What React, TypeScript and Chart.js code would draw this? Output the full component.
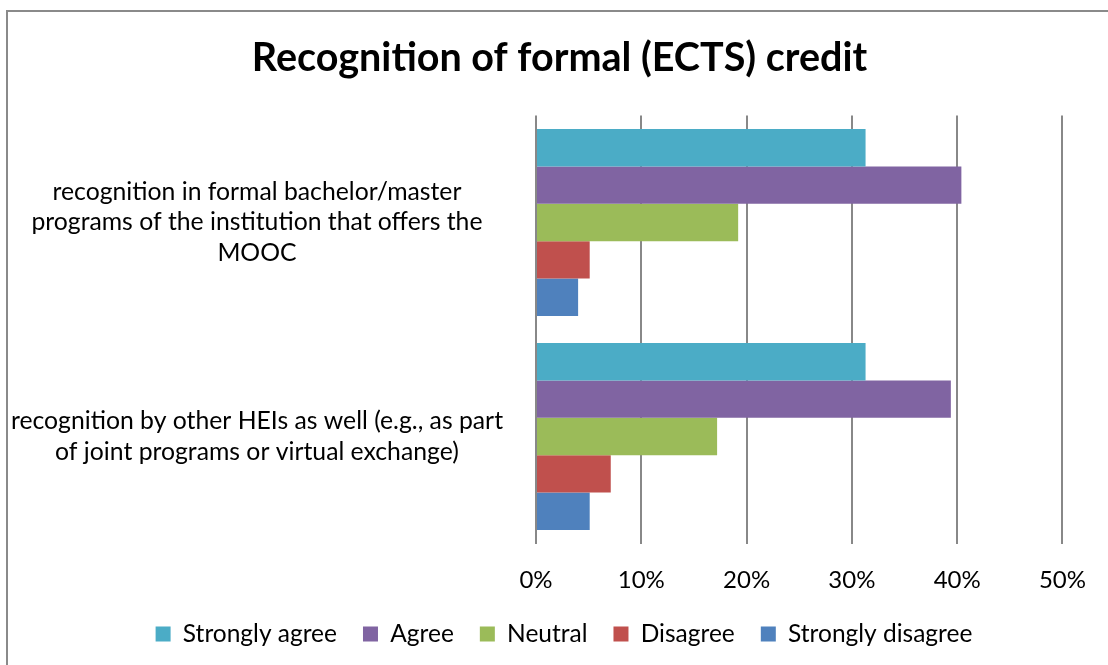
import React, { useEffect, useRef } from "react";
import { Chart, registerables } from "chart.js";

Chart.register(...registerables);

const categories: string[][] = [
  ["recognition in formal bachelor/master", "programs of the institution that offers the", "MOOC"],
  ["recognition by other HEIs as well (e.g., as part", "of joint programs or virtual exchange)"],
];
const seriesNames = ["Strongly agree", "Agree", "Neutral", "Disagree", "Strongly disagree"];
const stronglyAgree = [31.3, 31.3];
const agree = [40.4, 39.4];
const neutral = [19.2, 17.2];
const disagree = [5.1, 7.1];
const stronglyDisagree = [4.0, 5.1];
const seriesColors = ["#4BACC6", "#8064A2", "#9BBB59", "#C0504D", "#4F81BD"];
const xTicks = [0, 10, 20, 30, 40, 50];

const FONT = "Lato, 'Open Sans', sans-serif";

const framePlugin = {
  id: "frame",
  afterLayout(chart: any) {
    if (chart.legend) {
      chart.legend.left += 31;
      chart.legend.right += 31;
    }
    if (chart.titleBlock) {
      chart.titleBlock.left += 26.5;
      chart.titleBlock.right += 26.5;
    }
  },
  beforeDraw(chart: any) {
    const ctx = chart.ctx;
    ctx.save();
    ctx.fillStyle = "#ffffff";
    ctx.fillRect(0, 0, chart.width, chart.height);
    ctx.strokeStyle = "#8a8a8a";
    ctx.lineWidth = 2;
    ctx.beginPath();
    ctx.moveTo(7, chart.height + 5);
    ctx.lineTo(7, 11);
    ctx.lineTo(chart.width + 5, 11);
    ctx.stroke();
    ctx.restore();
  },
};

export default function App() {
  const ref = useRef<HTMLCanvasElement | null>(null);
  useEffect(() => {
    if (!ref.current) return;
    const data = [stronglyAgree, agree, neutral, disagree, stronglyDisagree];
    const chart = new Chart(ref.current, {
      type: "bar",
      data: {
        labels: categories,
        datasets: seriesNames.map((name, i) => ({
          label: name,
          data: data[i],
          backgroundColor: seriesColors[i],
          borderWidth: 0,
          barPercentage: 1,
          categoryPercentage: 0.873,
        })),
      },
      options: {
        indexAxis: "y",
        responsive: false,
        animation: false,
        layout: { padding: { left: 0, right: 42, top: 0, bottom: 8.75 } },
        plugins: {
          title: {
            display: true,
            text: "Recognition of formal (ECTS) credit",
            color: "#000",
            font: { family: FONT, size: 39.5, weight: "bold", lineHeight: 1.2 },
            padding: { top: 34.3, bottom: 33.8 },
          },
          legend: {
            position: "bottom",
            labels: {
              color: "#000",
              font: { family: FONT, size: 24.5 },
              boxWidth: 15,
              boxHeight: 15,
              padding: 26,
            },
          },
          tooltip: { enabled: false },
        },
        scales: {
          x: {
            min: 0,
            max: 50,
            afterBuildTicks: (s: any) => {
              s.ticks = xTicks.map((v) => ({ value: v }));
            },
            afterFit: (s: any) => {
              s.height = 52.25;
            },
            ticks: {
              color: "#000",
              font: { family: FONT, size: 24, lineHeight: 1.2 },
              padding: 22,
              callback: (v: any) => v + "%",
            },
            grid: { color: "#888888", lineWidth: 2, drawTicks: false },
            border: { display: false },
          },
          y: {
            afterFit: (s: any) => {
              s.width = 536;
            },
            ticks: {
              color: "#000",
              crossAlign: "center",
              padding: 33,
              font: { family: FONT, size: 24.75, lineHeight: 1.22 },
            },
            grid: { display: false, drawTicks: false },
            border: { display: false },
          },
        },
      },
      plugins: [framePlugin],
    } as any);
    return () => chart.destroy();
  }, []);
  return (
    <div style={{ position: "fixed", left: 0, top: 0, width: 1108, height: 665, background: "#fff", overflow: "hidden" }}>
      <canvas ref={ref} width={1108} height={665} style={{ display: "block" }} />
    </div>
  );
}
